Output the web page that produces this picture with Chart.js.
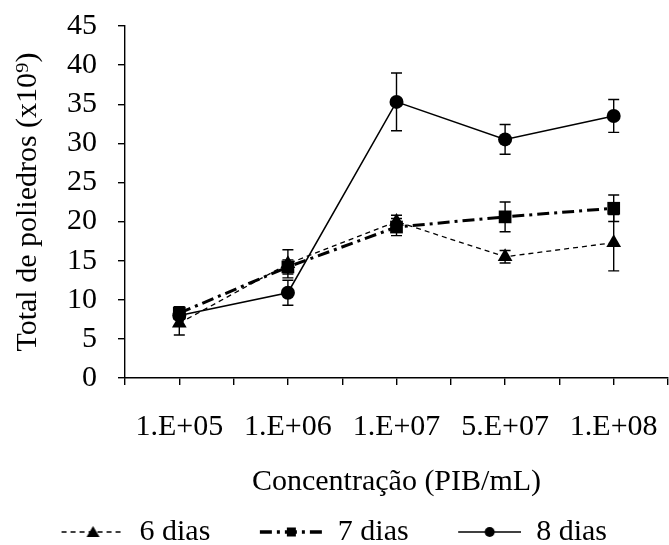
<!DOCTYPE html>
<html>
<head>
<meta charset="utf-8">
<script src="https://cdn.jsdelivr.net/npm/chart.js@4.4.0/dist/chart.umd.min.js"></script>
<style>
  html, body { margin: 0; padding: 0; background: #fff; }
  #wrap { width: 669px; height: 545px; }
</style>
</head>
<body>
<div id="wrap"><canvas id="chart"></canvas></div>
<script>
// Chart data
const concentrations = ['1.E+05', '1.E+06', '1.E+07', '5.E+07', '1.E+08'];
const seriesNames = ['6 dias', '7 dias', '8 dias'];

const dias6 = [7.0, 14.6, 20.0, 15.5, 17.3];
const err6 = [1.5, 1.8, 0.8, 0.8, 3.6];

const dias7 = [8.3, 14.2, 19.3, 20.6, 21.7];
const err7 = [0.8, 0.9, 1.1, 1.9, 1.7];

const dias8 = [8.0, 10.9, 35.3, 30.5, 33.5];
const err8 = [0.4, 1.6, 3.7, 1.9, 2.1];

const yTicks = { min: 0, max: 45, step: 5 };

const FONT = 'Liberation Serif, Times New Roman, serif';

// Legend samples: line + marker drawn on small canvases
const SAMPLE_W = 86;
const SAMPLE_M = 23;

function makeSample(kind) {
    const c = document.createElement('canvas');
    c.width = SAMPLE_W;
    c.height = 20;
    const g = c.getContext('2d');
    const cy = 10;
    const cx = SAMPLE_M + (SAMPLE_W - SAMPLE_M) / 2;
    g.strokeStyle = '#000';
    g.fillStyle = '#000';
    g.beginPath();
    if (kind === 0) {
        g.lineWidth = 1.3;
        g.setLineDash([5, 4]);
    } else if (kind === 1) {
        g.lineWidth = 3.5;
        g.setLineDash([12, 5, 3, 5]);
    } else {
        g.lineWidth = 1.5;
    }
    g.moveTo(SAMPLE_M, cy);
    g.lineTo(SAMPLE_W, cy);
    g.stroke();
    g.setLineDash([]);
    g.beginPath();
    if (kind === 0) {
        g.moveTo(cx, cy - 6);
        g.lineTo(cx + 6.5, cy + 5);
        g.lineTo(cx - 6.5, cy + 5);
        g.closePath();
        g.fill();
    } else if (kind === 1) {
        g.fillRect(cx - 4.5, cy - 4.5, 9, 9);
    } else {
        g.arc(cx, cy, 5, 0, Math.PI * 2);
        g.fill();
    }
    return c;
}

const samples = [makeSample(0), makeSample(1), makeSample(2)];

// Error bars plugin
const errorBars = {
    id: 'errorBars',
    beforeDatasetsDraw(chart) {
        const ctx = chart.ctx;
        const x = chart.scales.x;
        const y = chart.scales.y;
        ctx.save();
        ctx.strokeStyle = '#000';
        ctx.lineWidth = 1.4;
        ctx.setLineDash([]);
        chart.data.datasets.forEach(ds => {
            ds.data.forEach((p, i) => {
                const e = ds.errors[i];
                const px = x.getPixelForValue(p.x);
                const top = y.getPixelForValue(p.y + e);
                const bot = y.getPixelForValue(p.y - e);
                ctx.beginPath();
                ctx.moveTo(px, top);
                ctx.lineTo(px, bot);
                ctx.moveTo(px - 5.5, top);
                ctx.lineTo(px + 5.5, top);
                ctx.moveTo(px - 5.5, bot);
                ctx.lineTo(px + 5.5, bot);
                ctx.stroke();
            });
        });
        ctx.restore();
    }
};

function points(values) {
    return values.map((v, i) => ({ x: i, y: v }));
}

const ctx = document.getElementById('chart');

new Chart(ctx, {
    type: 'line',
    data: {
        datasets: [
            {
                label: seriesNames[0],
                data: points(dias6),
                errors: err6,
                borderColor: '#000',
                backgroundColor: '#000',
                borderWidth: 1.3,
                borderDash: [5, 4],
                pointStyle: 'triangle',
                pointRadius: 8.5,
                pointBorderWidth: 0
            },
            {
                label: seriesNames[1],
                data: points(dias7),
                errors: err7,
                borderColor: '#000',
                backgroundColor: '#000',
                borderWidth: 3,
                borderDash: [12, 5, 3, 5],
                pointStyle: 'rect',
                pointRadius: 9,
                pointBorderWidth: 0
            },
            {
                label: seriesNames[2],
                data: points(dias8),
                errors: err8,
                borderColor: '#000',
                backgroundColor: '#000',
                borderWidth: 1.5,
                pointStyle: 'circle',
                pointRadius: 7,
                pointBorderWidth: 0
            }
        ]
    },
    options: {
        responsive: true,
        maintainAspectRatio: false,
        animation: false,
        layout: {
            autoPadding: false,
            padding: { left: 0, right: 1, top: 26, bottom: -12 }
        },
        scales: {
            x: {
                type: 'linear',
                min: -0.5,
                max: 4.5,
                ticks: {
                    stepSize: 0.5,
                    autoSkip: false,
                    maxRotation: 0,
                    padding: 2,
                    color: '#000',
                    font: { family: FONT, size: 30, lineHeight: 0.9 },
                    // blank first line pushes the category name down from the axis
                    callback: v => Number.isInteger(v) ? ['', concentrations[v]] : ''
                },
                afterFit(scale) {
                    // let the axis run to the right edge like the original
                    scale.paddingLeft = 0;
                    scale.paddingRight = 0;
                },
                grid: {
                    drawOnChartArea: false,
                    drawTicks: true,
                    tickLength: 7,
                    color: '#000',
                    lineWidth: 1.4
                },
                border: { color: '#000', width: 1.4 },
                title: {
                    display: true,
                    text: 'Concentração (PIB/mL)',
                    color: '#000',
                    font: { family: FONT, size: 30 },
                    padding: { top: 21, bottom: 13 }
                }
            },
            y: {
                min: yTicks.min,
                max: yTicks.max,
                ticks: {
                    stepSize: yTicks.step,
                    autoSkip: false,
                    padding: 21,
                    color: '#000',
                    font: { family: FONT, size: 30, lineHeight: 0.2 }
                },
                grid: {
                    drawOnChartArea: false,
                    drawTicks: true,
                    tickLength: 7,
                    color: '#000',
                    lineWidth: 1.4
                },
                border: { color: '#000', width: 1.4 },
                title: {
                    display: true,
                    text: 'Total de poliedros (x10\u2079)',
                    color: '#000',
                    font: { family: FONT, size: 30 },
                    padding: { top: 10, bottom: 0 }
                }
            }
        },
        plugins: {
            legend: {
                position: 'bottom',
                labels: {
                    usePointStyle: true,
                    pointStyleWidth: SAMPLE_W,
                    boxHeight: 20,
                    padding: 4,
                    color: '#000',
                    font: { family: FONT, size: 30 },
                    generateLabels(chart) {
                        return chart.data.datasets.map((ds, i) => ({
                            text: ds.label + '\u00a0\u00a0\u00a0',
                            pointStyle: samples[i],
                            fillStyle: '#000',
                            strokeStyle: '#000',
                            lineWidth: 0,
                            hidden: false,
                            datasetIndex: i
                        }));
                    }
                }
            },
            tooltip: { enabled: false }
        }
    },
    plugins: [errorBars]
});
</script>
</body>
</html>
